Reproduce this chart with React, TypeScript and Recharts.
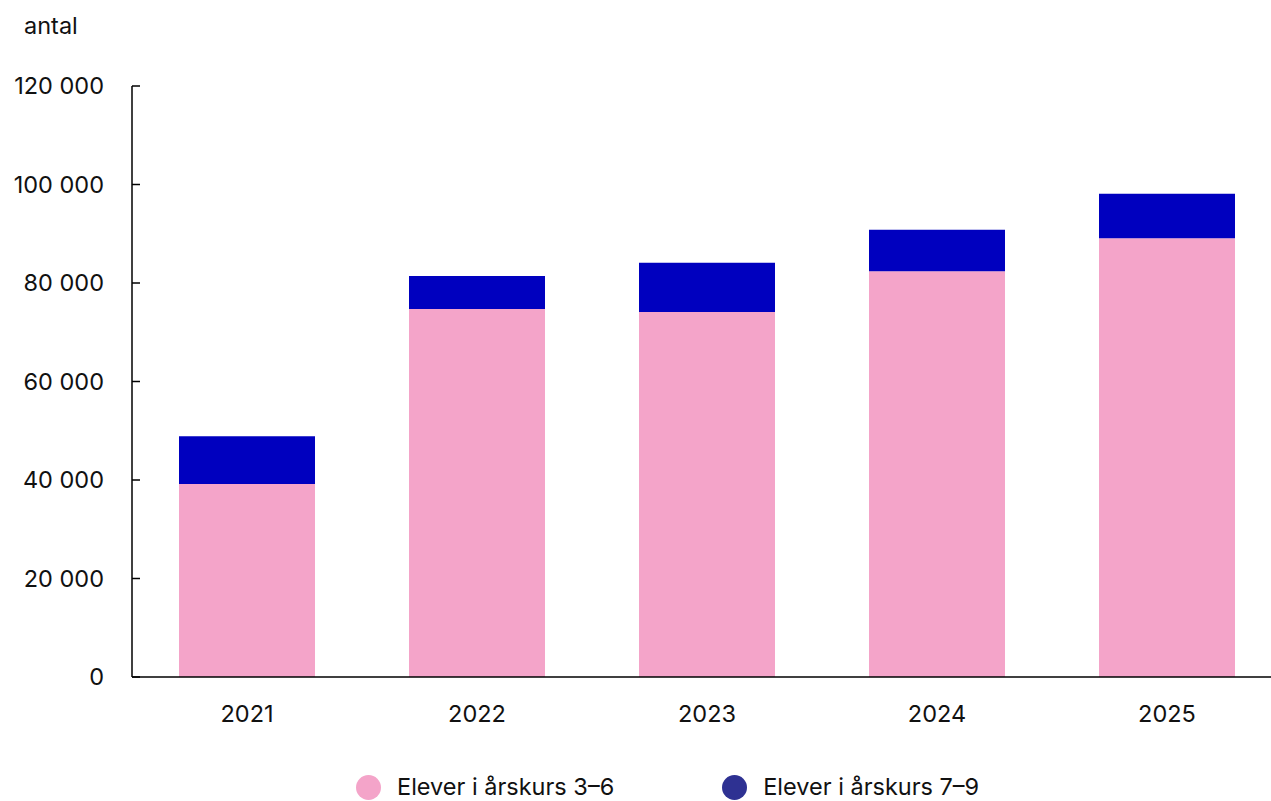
import { Bar, BarChart, XAxis, YAxis } from "recharts";

// Kategorier och värden (antal elever)
const YEARS = ["2021", "2022", "2023", "2024", "2025"];
const GRADE_3_6 = [39200, 74700, 74100, 82400, 89100];
const GRADE_7_9 = [9700, 6700, 10000, 8400, 9000];
const Y_TICKS = [0, 20000, 40000, 60000, 80000, 100000, 120000];

const SERIES = [
  { key: "g36", name: "Elever i årskurs 3–6", color: "#F4A4C9", legend: "#F4A4C9" },
  { key: "g79", name: "Elever i årskurs 7–9", color: "#0000BF", legend: "#2E3192" },
];

const FONT = "Inter, 'Noto Sans', sans-serif";
const FS = 23.5;
const AXIS_X = 132;

const fmt = (v: number) =>
  v === 0 ? "0" : `${Math.floor(v / 1000)} ${String(v % 1000).padStart(3, "0")}`;

function YTick(props: any) {
  const { y, payload } = props;
  return (
    <g>
      <line x1={AXIS_X} x2={AXIS_X + 8} y1={y} y2={y} stroke="#000" strokeWidth={1.5} />
      <text
        x={104}
        y={y}
        dy={8}
        textAnchor="end"
        fontSize={FS}
        fontFamily={FONT}
        fill="#111"
      >
        {fmt(payload.value)}
      </text>
    </g>
  );
}

export default function App() {
  const data = YEARS.map((y, i) => ({ year: y, g36: GRADE_3_6[i], g79: GRADE_7_9[i] }));

  return (
    <div
      style={{
        position: "absolute",
        left: 0,
        top: 0,
        width: 1271,
        height: 801,
        overflow: "hidden",
        background: "#fff",
        fontFamily: FONT,
        color: "#111",
      }}
    >
      <div style={{ position: "absolute", left: 24, top: 11, fontSize: FS }}>antal</div>
      <BarChart
        width={1290}
        height={743}
        data={data}
        margin={{ top: 86, right: 8, left: 0, bottom: 0 }}
        barSize={136}
      >
        <XAxis
          dataKey="year"
          axisLine={{ stroke: "#000", strokeWidth: 1.5 }}
          tickLine={false}
          tick={{ fontSize: FS, fontFamily: FONT, fill: "#111" }}
          tickMargin={22}
          height={66}
        />
        <YAxis
          width={AXIS_X}
          domain={[0, 120000]}
          ticks={Y_TICKS}
          axisLine={{ stroke: "#000", strokeWidth: 1.5 }}
          tickLine={false}
          tick={<YTick />}
          interval={0}
        />
        {SERIES.map((s) => (
          <Bar
            key={s.key}
            dataKey={s.key}
            name={s.name}
            stackId="a"
            fill={s.color}
            isAnimationActive={false}
          />
        ))}
      </BarChart>
      <div
        style={{
          position: "absolute",
          left: 356,
          top: 774,
          display: "flex",
          alignItems: "center",
          fontSize: FS,
          lineHeight: "26px",
        }}
      >
        {SERIES.map((s, i) => (
          <div
            key={s.key}
            style={{ display: "flex", alignItems: "center", marginRight: i === 0 ? 108 : 0 }}
          >
            <span
              style={{
                width: 25,
                height: 25,
                borderRadius: "50%",
                background: s.legend,
                display: "inline-block",
                marginRight: 16,
              }}
            />
            <span>{s.name}</span>
          </div>
        ))}
      </div>
    </div>
  );
}
